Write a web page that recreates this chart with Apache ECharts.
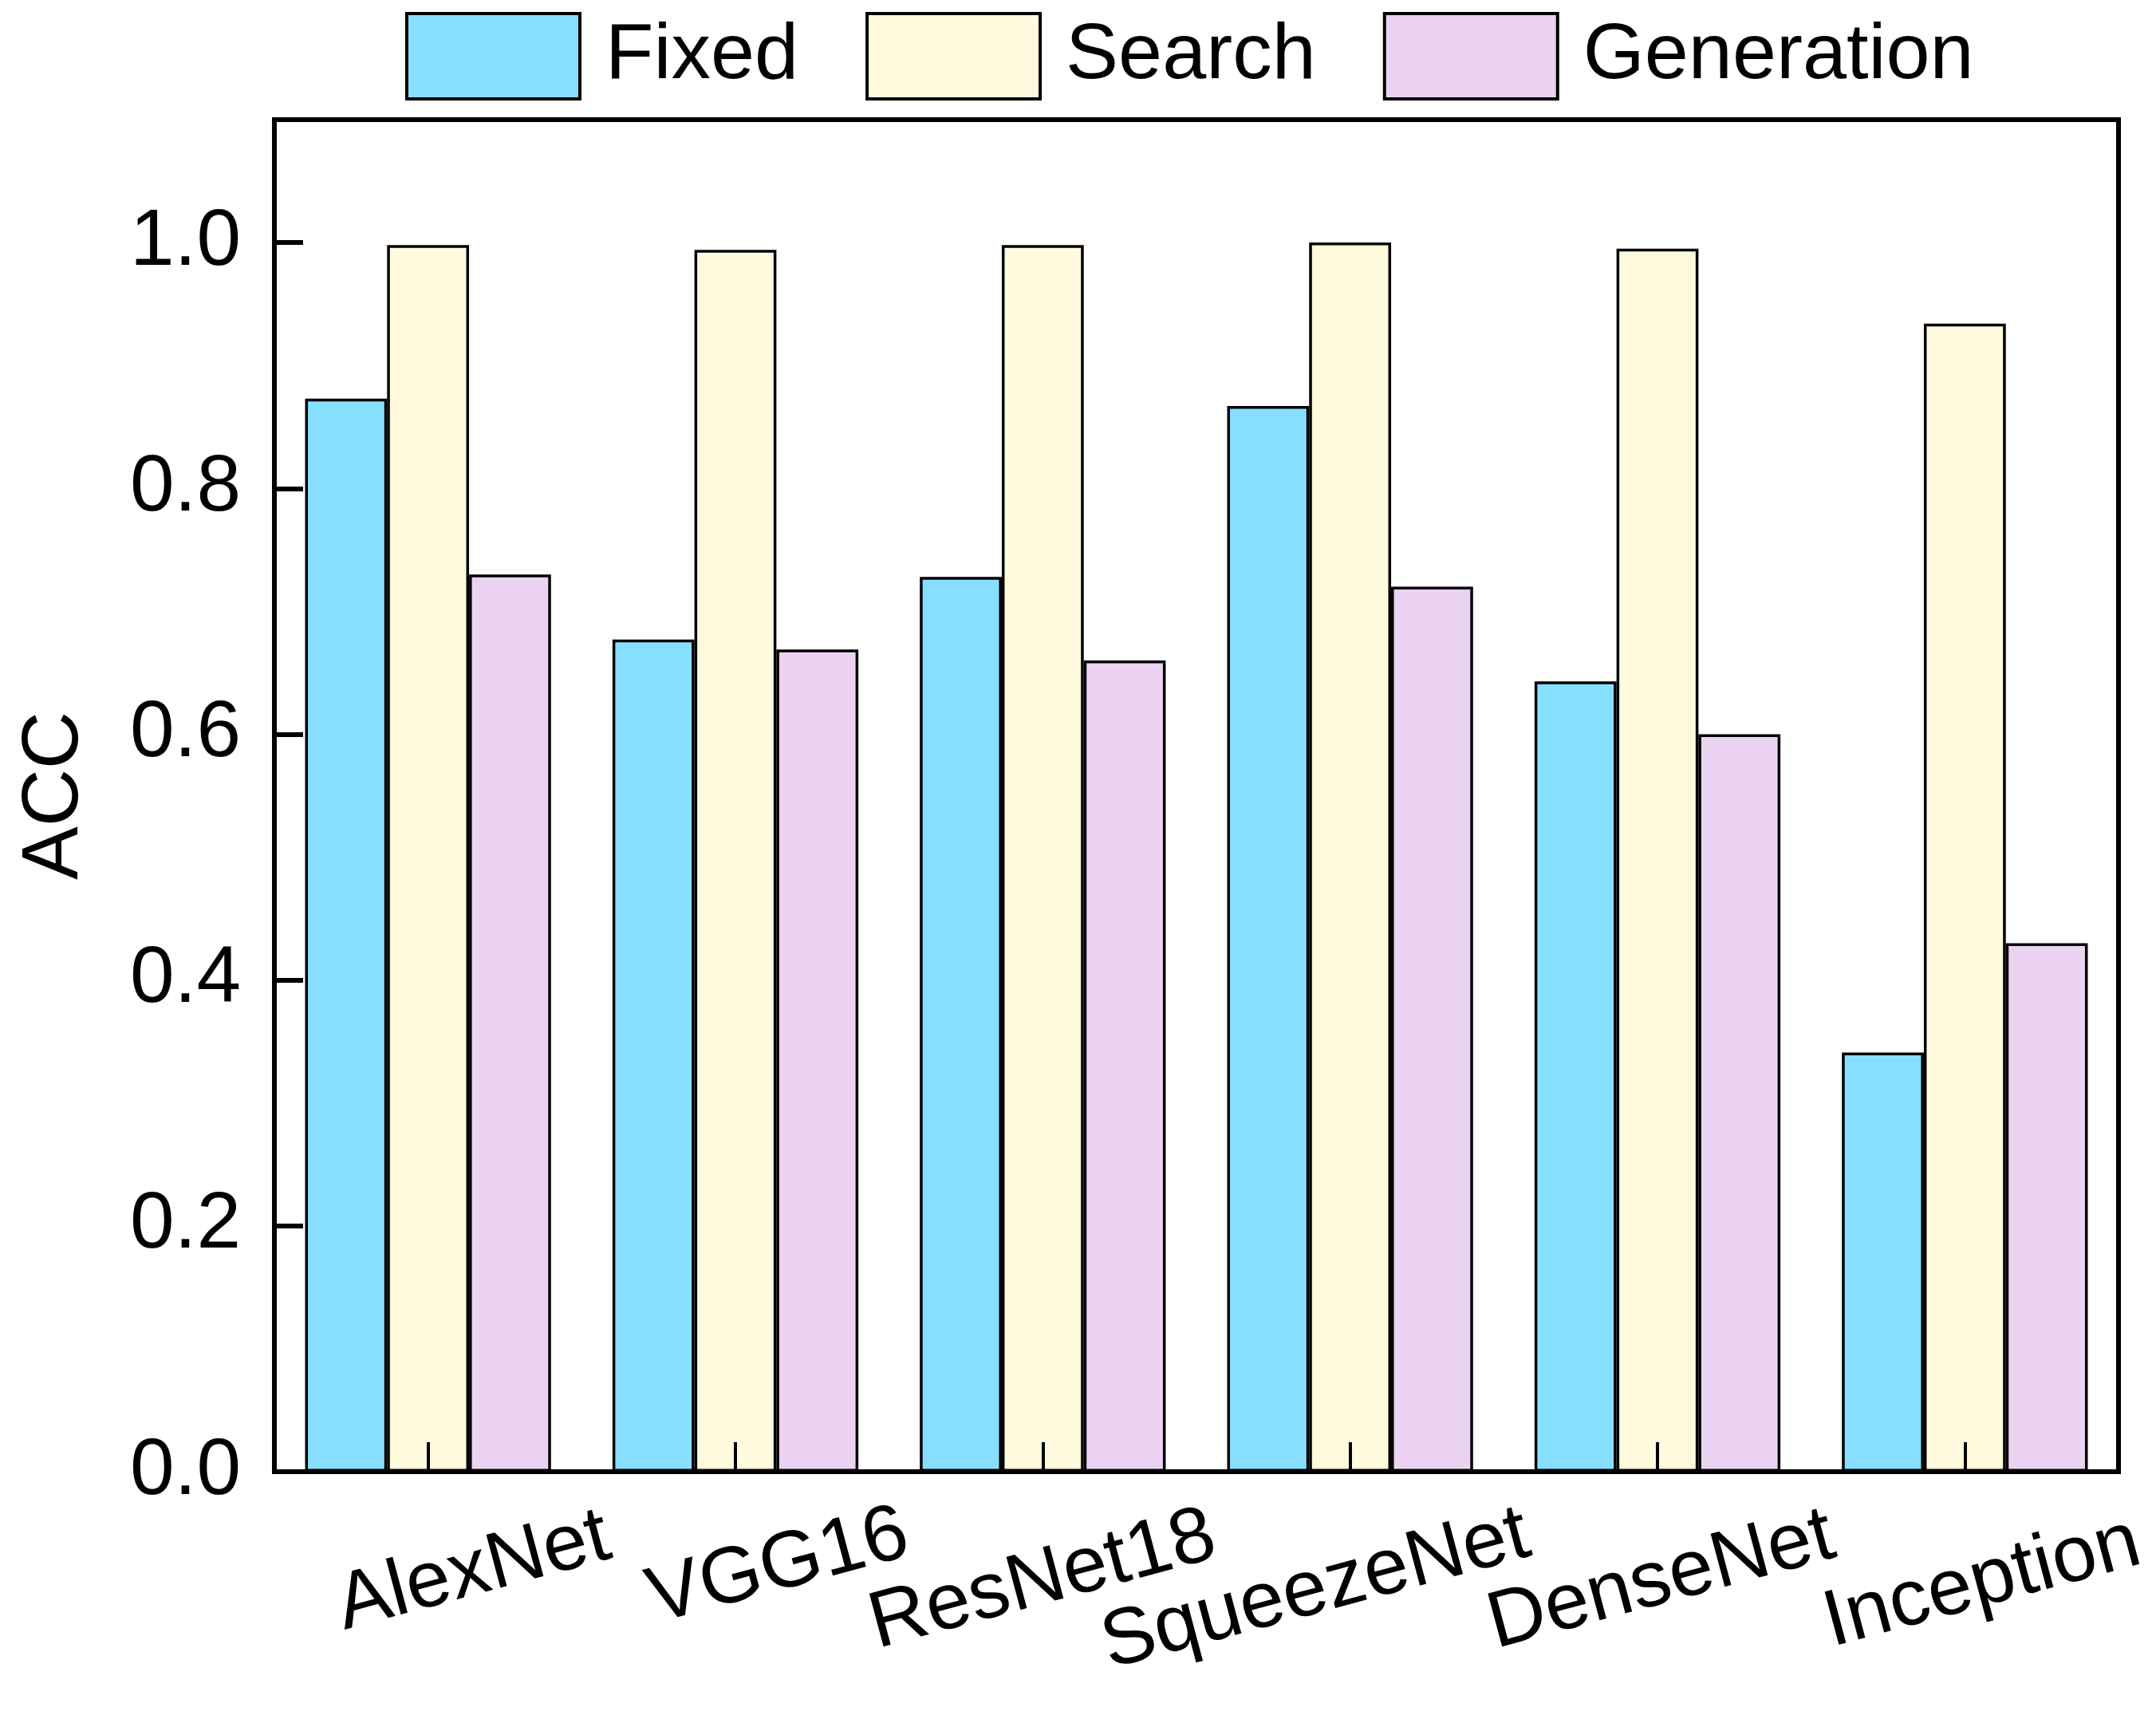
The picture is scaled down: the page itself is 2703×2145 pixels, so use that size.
<!DOCTYPE html>
<html>
<head>
<meta charset="utf-8">
<script src="https://cdn.jsdelivr.net/npm/echarts@6/dist/echarts.min.js"></script>
<style>
html,body{margin:0;padding:0;background:#fff;}
#chart{width:2703px;height:2145px;}
</style>
</head>
<body>
<div id="chart"></div>
<script>
const categories = ['AlexNet', 'VGG16', 'ResNet18', 'SqueezeNet', 'DenseNet', 'Inception'];
const seriesNames = ['Fixed', 'Search', 'Generation'];
const fixedValues = [0.873, 0.677, 0.728, 0.867, 0.643, 0.341];
const searchValues = [0.998, 0.994, 0.998, 1.000, 0.995, 0.934];
const generationValues = [0.730, 0.669, 0.660, 0.720, 0.600, 0.430];
const yTicks = [0, 0.2, 0.4, 0.6, 0.8, 1.0];

const colors = ['#87DFFF', '#FFFADE', '#ECD2F1'];
const FONT = "'Liberation Sans', Arial, sans-serif";

// label placement tweaks (style only): screen offsets of label centres
const labelDx = [57, 54, 0, -43, 5, 22];
const labelDy = [-9, -15, 2, 14, 2, 5];
const ang = 15 * Math.PI / 180;
const rich = {};
categories.forEach((c, i) => {
  const u = labelDx[i] * Math.cos(ang) - labelDy[i] * Math.sin(ang);
  const v = labelDx[i] * Math.sin(ang) + labelDy[i] * Math.cos(ang);
  rich['c' + i] = {
    fontSize: 100, fontFamily: FONT, color: '#000',
    padding: [v > 0 ? 2 * v : 0, u < 0 ? -2 * u : 0, v < 0 ? -2 * v : 0, u > 0 ? 2 * u : 0]
  };
});

const dataSets = [fixedValues, searchValues, generationValues];

const chart = echarts.init(document.getElementById('chart'));
chart.setOption({
  animation: false,
  backgroundColor: '#fff',
  color: colors,
  textStyle: { fontFamily: FONT },
  legend: {
    top: 10,
    left: 503,
    itemWidth: 217,
    itemHeight: 107,
    itemGap: 84,
    icon: 'rect',
    itemStyle: { borderColor: '#000', borderWidth: 4 },
    textStyle: { fontSize: 99, fontFamily: FONT, color: '#000', padding: [0, 0, 0, 27] },
    data: seriesNames
  },
  grid: {
    left: 344, right: 47, top: 150, bottom: 300,
    show: true, borderColor: '#000', borderWidth: 6, backgroundColor: 'transparent'
  },
  xAxis: {
    type: 'category',
    data: categories,
    z: 5,
    axisLine: { lineStyle: { color: '#000', width: 6 } },
    axisTick: { show: true, inside: true, alignWithLabel: true, length: 37, lineStyle: { color: '#000', width: 4 } },
    axisLabel: {
      interval: 0,
      rotate: 15,
      align: 'center',
      verticalAlign: 'middle',
      margin: 135,
      fontSize: 100,
      fontFamily: FONT,
      color: '#000',
      formatter: (v) => '{c' + categories.indexOf(v) + '|' + v + '}',
      rich: rich
    }
  },
  yAxis: {
    type: 'value',
    min: 0,
    max: 1.1,
    interval: 0.2,
    z: 5,
    name: 'ACC',
    nameLocation: 'middle',
    nameGap: 225,
    nameTextStyle: { fontSize: 100, fontFamily: FONT, color: '#000' },
    splitLine: { show: false },
    axisLine: { show: true, lineStyle: { color: '#000', width: 6 } },
    axisTick: { show: true, inside: true, length: 36, lineStyle: { color: '#000', width: 6 } },
    axisLabel: {
      margin: 42,
      fontSize: 100,
      fontFamily: FONT,
      color: '#000',
      formatter: (v) => yTicks.some(t => Math.abs(t - v) < 1e-9) ? v.toFixed(1) : ''
    }
  },
  series: seriesNames.map((n, i) => ({
    name: n,
    type: 'bar',
    data: dataSets[i],
    barGap: '0%',
    barCategoryGap: '20%',
    itemStyle: { color: colors[i], borderColor: '#000', borderWidth: 3.5 }
  }))
});
</script>
</body>
</html>
